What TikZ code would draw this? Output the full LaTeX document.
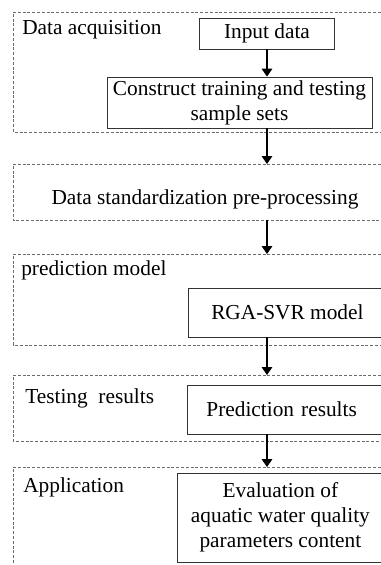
\documentclass[tikz,border=0pt]{standalone}
\usepackage{fontspec}
\setmainfont{Liberation Serif}
\usetikzlibrary{positioning, calc, arrows.meta}

\begin{document}
\begin{tikzpicture}[x=0.75pt,y=-0.75pt,
    font=\fontsize{16}{18.75}\selectfont,
    grp/.style={draw=gray!85!black, line width=0.6pt, dash pattern=on 2.2pt off 1.4pt},
    bx/.style={draw=black!80, line width=0.6pt, inner sep=0pt, align=center},
    lbl/.style={anchor=base west, inner sep=0pt},
    flow/.style={-{Triangle[width=8pt,length=6pt]}, line width=0.9pt}]
    \useasboundingbox (0,0) rectangle (381,565);
    \clip (0,0) rectangle (381,565);

    % dashed stage frames
    \draw[grp] (400,12) -- (13,12) -- (13,132) -- (400,132);
    \draw[grp] (400,164) -- (13,164) -- (13,220) -- (400,220);
    \draw[grp] (400,254) -- (13,254) -- (13,345) -- (400,345);
    \draw[grp] (400,375) -- (13,375) -- (13,441) -- (400,441);
    \draw[grp] (400,467) -- (13,467) -- (13,580);

    % where the arrows meet the frames
    \coordinate (t2) at (267,164);
    \coordinate (b2) at (267,220);
    \coordinate (t3) at (267,254);
    \coordinate (t4) at (267,375);
    \coordinate (t5) at (267,467);

    % stage titles
    \node[lbl] (acq)  at (22,34)  {Data acquisition};
    \node[lbl] (pmod) at (21,275) {prediction model};
    \node[lbl] (test) at (25,403) {Testing\ \ results};
    \node[lbl] (app)  at (23,492) {Application};
    \node (std) at (205,199) {Data standardization pre-processing};

    % boxes
    \node[bx, minimum width=101.25pt, minimum height=23.25pt] (inp) at (267,33.5) {Input data};
    \node[bx, minimum width=198.75pt, minimum height=38.25pt] (cons) at (239.5,102.5)
        {Construct training and testing\\sample sets};
    \node[bx, anchor=west, minimum width=148.5pt, minimum height=36.75pt] (svr) at (188,312.5) {RGA-SVR model};
    \node[bx, anchor=west, minimum height=36.75pt, inner xsep=14.25pt, text width=129pt, align=left]
        (pred) at (187,409.5) {Prediction results};
    \node[bx, anchor=west, minimum width=154.5pt, minimum height=66.75pt] (eval) at (177,517.5)
        {Evaluation of\\aquatic water quality\\parameters content};

    \draw[flow] (inp) -- (inp.south |- cons.north);
    \draw[flow] (inp.south |- cons.south) -- (t2);
    \draw[flow] (b2) -- (t3);
    \draw[flow] (svr.south -| t4) -- (t4);
    \draw[flow] (pred.south -| t5) -- (t5);
\end{tikzpicture}
\end{document}
